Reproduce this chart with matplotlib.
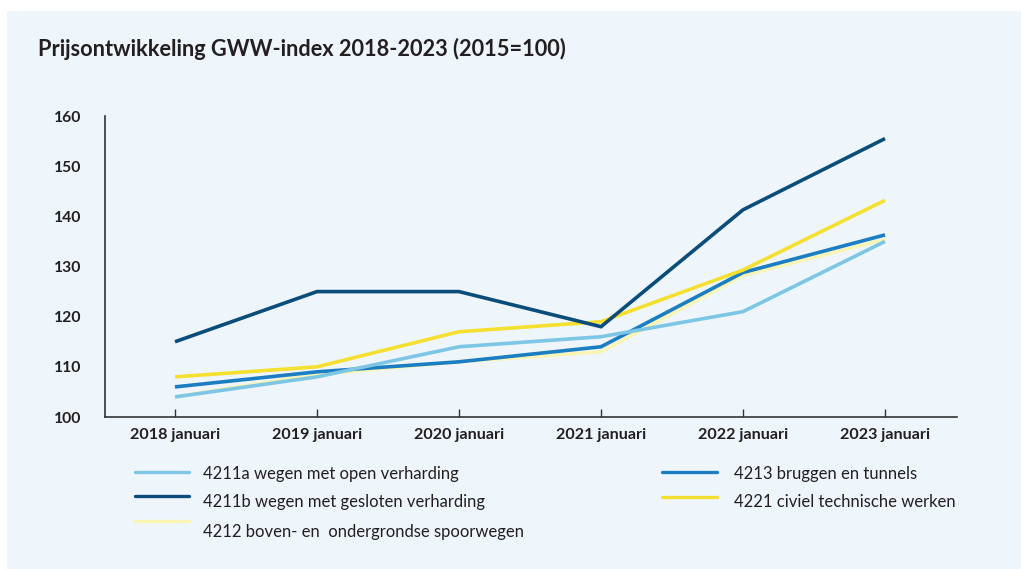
import matplotlib
matplotlib.use("Agg")
import matplotlib.pyplot as plt
from matplotlib.lines import Line2D
from matplotlib.patches import Rectangle

years = ["2018 januari", "2019 januari", "2020 januari", "2021 januari", "2022 januari", "2023 januari"]
s_4211a = [104, 108, 114, 116, 121, 135]
s_4211b = [115, 125, 125, 118, 141.3, 155.5]
s_4212 = [104, 108.5, 111, 113, 128.2, 135.4]
s_4213 = [106, 109, 111, 114, 128.8, 136.3]
s_4221 = [108, 110, 117, 119, 129.3, 143.2]
labels = ["4211a wegen met open verharding", "4211b wegen met gesloten verharding",
          "4212 boven- en  ondergrondse spoorwegen", "4213 bruggen en tunnels",
          "4221 civiel technische werken"]
yticks = [100, 110, 120, 130, 140, 150, 160]
title = "Prijsontwikkeling GWW-index 2018-2023 (2015=100)"

c_light = "#7DC6E6"
c_dark = "#0B4D7A"
c_pale = "#FAF5B4"
c_blue = "#1B7DC2"
c_yellow = "#F5E030"
bg = "#EEF6FC"
txt = "#231F20"

plt.rcParams['font.family'] = ['Lato', 'DejaVu Sans']

W, H = 1021, 569
fig = plt.figure(figsize=(W / 100, H / 100), dpi=100, facecolor="white")
fig.add_artist(Rectangle((7 / W, 0), (W - 7) / W, (H - 11) / H, transform=fig.transFigure,
                         facecolor=bg, edgecolor="none", zorder=0))

ax = fig.add_axes([105 / W, 1 - 417 / H, (957 - 105) / W, (417 - 116) / H])
ax.set_facecolor("none")
x = list(range(len(years)))
series = [(s_4211a, c_light, 3), (s_4211b, c_dark, 5), (s_4212, c_pale, 1),
          (s_4213, c_blue, 2), (s_4221, c_yellow, 4)]
for vals, col, z in series:
    ax.plot(x, vals, color=col, lw=2.6, zorder=z, solid_capstyle="butt", solid_joinstyle="miter")

ax.set_xlim(-0.493, 5.507)
ax.set_ylim(100, 160)
ax.set_yticks(yticks)
ax.set_yticklabels([str(t) for t in yticks], fontsize=11.3, fontweight="bold", color=txt)
ax.set_xticks(x)
ax.set_xticklabels(years, fontsize=11.6, fontweight="bold", color=txt)
ax.tick_params(axis="y", length=0, pad=17)
ax.tick_params(axis="x", direction="in", length=6, width=1, color="#333333", pad=8)
for s in ["top", "right"]:
    ax.spines[s].set_visible(False)
for s in ["left", "bottom"]:
    ax.spines[s].set_color("#333333")
    ax.spines[s].set_linewidth(1.2)

fig.text(38 / W, 1 - 49 / H, title, fontsize=15.7, fontweight="bold", color=txt, va="center", ha="left")

# legend
leg = [(135, 189, 472, 203, 474, 0, c_light),
       (135, 189, 496, 203, 502, 1, c_dark),
       (135, 189, 521, 203, 532, 2, c_pale),
       (662, 717, 472, 734, 474, 3, c_blue),
       (662, 717, 497, 734, 502, 4, c_yellow)]
for x0, x1, yl, xt, yt, i, col in leg:
    fig.add_artist(Line2D([x0 / W, x1 / W], [1 - yl / H, 1 - yl / H], transform=fig.transFigure,
                          color=col, lw=2.4, solid_capstyle="round"))
    fig.text(xt / W, 1 - yt / H, labels[i], fontsize=12, color=txt, va="center", ha="left")

fig.savefig("out.png", dpi=100, facecolor="white")
